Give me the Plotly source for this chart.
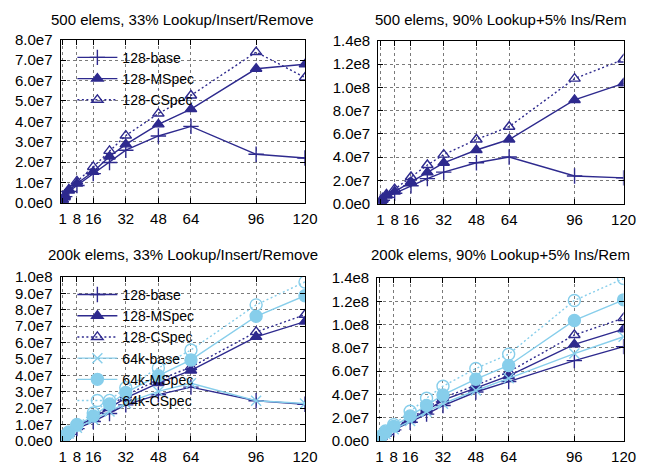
import plotly.graph_objects as go

# ---------------- data ----------------
threads = [1, 2, 4, 8, 16, 24, 32, 48, 64, 96, 120]
x_tickvals = [1, 8, 16, 32, 48, 64, 96, 120]
x_ticktext = ["1", "8", "16", "32", "48", "64", "96", "120"]

titles = [
    "500 elems, 33% Lookup/Insert/Remove",
    "500 elems, 90% Lookup+5% Ins/Rem",
    "200k elems, 33% Lookup/Insert/Remove",
    "200k elems, 90% Lookup+5% Ins/Rem",
]

# panel 1: 500 elems, 33% L/I/R
p1_128_base = [0.15e7, 0.3e7, 0.55e7, 0.85e7, 1.43e7, 1.98e7, 2.58e7, 3.28e7, 3.75e7, 2.38e7, 2.2e7]
p1_128_mspec = [0.15e7, 0.3e7, 0.6e7, 0.95e7, 1.52e7, 2.27e7, 2.87e7, 3.85e7, 4.6e7, 6.58e7, 6.8e7]
p1_128_cspec = [0.15e7, 0.35e7, 0.65e7, 1.05e7, 1.76e7, 2.55e7, 3.3e7, 4.38e7, 5.27e7, 7.4e7, 6.15e7]

# panel 2: 500 elems, 90% lookup
p2_128_base = [0.15e7, 0.3e7, 0.55e7, 0.9e7, 1.55e7, 2.16e7, 2.72e7, 3.52e7, 4.02e7, 2.38e7, 2.22e7]
p2_128_mspec = [0.2e7, 0.35e7, 0.7e7, 1.05e7, 1.88e7, 2.7e7, 3.52e7, 4.62e7, 5.52e7, 8.92e7, 10.35e7]
p2_128_cspec = [0.2e7, 0.4e7, 0.8e7, 1.25e7, 2.3e7, 3.33e7, 4.22e7, 5.52e7, 6.62e7, 10.75e7, 12.4e7]

# panel 3: 200k elems, 33% L/I/R
p3_128_base = [0.1e7, 0.2e7, 0.4e7, 0.75e7, 1.18e7, 1.67e7, 2.2e7, 2.82e7, 3.28e7, 2.45e7, 2.24e7]
p3_128_mspec = [0.1e7, 0.25e7, 0.45e7, 0.85e7, 1.4e7, 2.0e7, 2.62e7, 3.53e7, 4.3e7, 6.35e7, 7.28e7]
p3_128_cspec = [0.1e7, 0.25e7, 0.5e7, 0.9e7, 1.5e7, 2.1e7, 2.8e7, 3.72e7, 4.5e7, 6.65e7, 7.7e7]
p3_64k_base = [0.1e7, 0.2e7, 0.45e7, 0.8e7, 1.3e7, 1.8e7, 2.3e7, 3.02e7, 3.52e7, 2.45e7, 2.28e7]
p3_64k_mspec = [0.12e7, 0.28e7, 0.5e7, 0.95e7, 1.52e7, 2.25e7, 2.95e7, 3.98e7, 4.94e7, 7.6e7, 8.86e7]
p3_64k_cspec = [0.13e7, 0.3e7, 0.55e7, 1.0e7, 1.7e7, 2.47e7, 3.25e7, 4.45e7, 5.55e7, 8.3e7, 9.7e7]

# panel 4: 200k elems, 90% lookup
p4_128_base = [0.15e7, 0.3e7, 0.55e7, 0.95e7, 1.6e7, 2.3e7, 3.04e7, 4.2e7, 5.1e7, 6.9e7, 8.1e7]
p4_128_mspec = [0.15e7, 0.35e7, 0.6e7, 1.05e7, 1.8e7, 2.6e7, 3.5e7, 4.57e7, 5.58e7, 8.3e7, 9.6e7]
p4_128_cspec = [0.17e7, 0.37e7, 0.65e7, 1.1e7, 1.9e7, 2.8e7, 3.7e7, 4.78e7, 5.93e7, 9.1e7, 10.55e7]
p4_64k_base = [0.15e7, 0.35e7, 0.6e7, 1.0e7, 1.7e7, 2.5e7, 3.2e7, 4.33e7, 5.38e7, 7.5e7, 8.95e7]
p4_64k_mspec = [0.2e7, 0.4e7, 0.75e7, 1.25e7, 2.15e7, 3.05e7, 3.95e7, 5.3e7, 6.48e7, 10.35e7, 12.12e7]
p4_64k_cspec = [0.22e7, 0.45e7, 0.85e7, 1.4e7, 2.55e7, 3.67e7, 4.7e7, 6.22e7, 7.45e7, 12.07e7, 13.95e7]

y_ticks_8e7 = [0, 1e7, 2e7, 3e7, 4e7, 5e7, 6e7, 7e7, 8e7]
y_text_8e7 = ["0.0e0", "1.0e7", "2.0e7", "3.0e7", "4.0e7", "5.0e7", "6.0e7", "7.0e7", "8.0e7"]
y_ticks_14e8 = [0, 2e7, 4e7, 6e7, 8e7, 10e7, 12e7, 14e7]
y_text_14e8 = ["0.0e0", "2.0e7", "4.0e7", "6.0e7", "8.0e7", "1.0e8", "1.2e8", "1.4e8"]
y_ticks_1e8 = [0, 1e7, 2e7, 3e7, 4e7, 5e7, 6e7, 7e7, 8e7, 9e7, 10e7]
y_text_1e8 = ["0.0e0", "1.0e7", "2.0e7", "3.0e7", "4.0e7", "5.0e7", "6.0e7", "7.0e7", "8.0e7", "9.0e7", "1.0e8"]

# ---------------- style ----------------
W, H = 663, 473
DARK = "#2e2a8e"
LIGHT = "#87ceeb"
FONT = "Liberation Sans, Arial, sans-serif"
DOTTED = "2px,2.5px"

def fx(p):
    return p / W

def fy(p):
    return 1 - p / H

def px_x(a, b):
    return [fx(a), fx(b)]

def px_y(top, bottom):
    return [fy(bottom), fy(top)]

panels = [
    dict(x=px_x(60, 310), y=px_y(32, 201), yr=8e7, yt=y_ticks_8e7, ytt=y_text_8e7),
    dict(x=px_x(385, 636), y=px_y(33, 202), yr=1.4e8, yt=y_ticks_14e8, ytt=y_text_14e8),
    dict(x=px_x(60, 310), y=px_y(278, 448), yr=1e8, yt=y_ticks_1e8, ytt=y_text_1e8),
    dict(x=px_x(384, 636), y=px_y(279, 448), yr=1.4e8, yt=y_ticks_14e8, ytt=y_text_14e8),
]

series_style = {
    "128-base": dict(color=DARK, dash="solid", symbol="cross-thin-open", size=11),
    "128-MSpec": dict(color=DARK, dash="solid", symbol="triangle-up", size=10),
    "128-CSpec": dict(color=DARK, dash=DOTTED, symbol="triangle-up-open", size=10),
    "64k-base": dict(color=LIGHT, dash="solid", symbol="x-thin-open", size=10),
    "64k-MSpec": dict(color=LIGHT, dash="solid", symbol="circle", size=12),
    "64k-CSpec": dict(color=LIGHT, dash=DOTTED, symbol="circle-open", size=12),
}

panel_data = [
    [("128-base", p1_128_base), ("128-MSpec", p1_128_mspec), ("128-CSpec", p1_128_cspec)],
    [("128-base", p2_128_base), ("128-MSpec", p2_128_mspec), ("128-CSpec", p2_128_cspec)],
    [("128-base", p3_128_base), ("128-MSpec", p3_128_mspec), ("128-CSpec", p3_128_cspec),
     ("64k-base", p3_64k_base), ("64k-MSpec", p3_64k_mspec), ("64k-CSpec", p3_64k_cspec)],
    [("128-base", p4_128_base), ("128-MSpec", p4_128_mspec), ("128-CSpec", p4_128_cspec),
     ("64k-base", p4_64k_base), ("64k-MSpec", p4_64k_mspec), ("64k-CSpec", p4_64k_cspec)],
]

fig = go.Figure()
layout = {}
for i, (p, series) in enumerate(zip(panels, panel_data)):
    n = "" if i == 0 else str(i + 1)
    xa, ya = "x" + n, "y" + n
    legend_name = {0: "legend", 2: "legend2"}.get(i)
    for name, vals in series:
        st = series_style[name]
        fig.add_trace(go.Scatter(
            x=threads, y=vals, name=name, xaxis=xa, yaxis=ya,
            mode="lines+markers",
            line=dict(color=st["color"], width=1.4, dash=st["dash"]),
            marker=dict(symbol=st["symbol"], size=st["size"], color=st["color"],
                        line=dict(color=st["color"], width=1.4)),
            showlegend=legend_name is not None,
            legend=legend_name if legend_name else "legend",
        ))
    common = dict(showline=True, linecolor="black", linewidth=1.2, mirror="ticks",
                  ticks="inside", ticklen=5, tickcolor="black", tickwidth=1,
                  showgrid=True, gridcolor="#7a7a7a", griddash="dot", gridwidth=1,
                  zeroline=False, tickfont=dict(family=FONT, size=15, color="black"))
    layout["xaxis" + n] = dict(domain=p["x"], anchor=ya, range=[0, 120],
                               tickvals=x_tickvals, ticktext=x_ticktext,
                               ticklabelstandoff=2, **common)
    layout["yaxis" + n] = dict(domain=p["y"], anchor=xa, range=[0, p["yr"]],
                               tickvals=p["yt"], ticktext=p["ytt"],
                               ticklabelstandoff=4, **common)

annotations = []
title_y = [11, 11, 255, 255]
for p, t, ty in zip(panels, titles, title_y):
    annotations.append(dict(text=t, x=(p["x"][0] + p["x"][1]) / 2, y=fy(ty),
                            xref="paper", yref="paper", showarrow=False,
                            xanchor="center", yanchor="middle",
                            font=dict(family=FONT, size=15, color="black")))

# white boxes hiding the grid behind legends (between grid and traces)
shapes = [
    dict(type="rect", xref="paper", yref="paper", layer="between",
         x0=fx(72), x1=fx(212), y0=fy(98), y1=fy(35),
         fillcolor="white", line=dict(width=0)),
    dict(type="rect", xref="paper", yref="paper", layer="between",
         x0=fx(72), x1=fx(200), y0=fy(408), y1=fy(282),
         fillcolor="white", line=dict(width=0)),
]

legend_common = dict(bgcolor="rgba(0,0,0,0)", borderwidth=0, xanchor="left", yanchor="top",
                     font=dict(family=FONT, size=14, color="black"),
                     itemwidth=40, tracegroupgap=0)

fig.update_layout(
    width=W, height=H, margin=dict(l=0, r=0, t=0, b=0),
    paper_bgcolor="white", plot_bgcolor="white",
    showlegend=True, hovermode=False,
    legend=dict(x=fx(72), y=fy(34), **legend_common),
    legend2=dict(x=fx(72), y=fy(280), **legend_common),
    annotations=annotations, shapes=shapes,
    **layout,
)

fig.write_html(
    "out.html",
    config={"displayModeBar": False},
    post_script="document.body.style.margin='0';document.body.style.overflow='hidden';",
)
